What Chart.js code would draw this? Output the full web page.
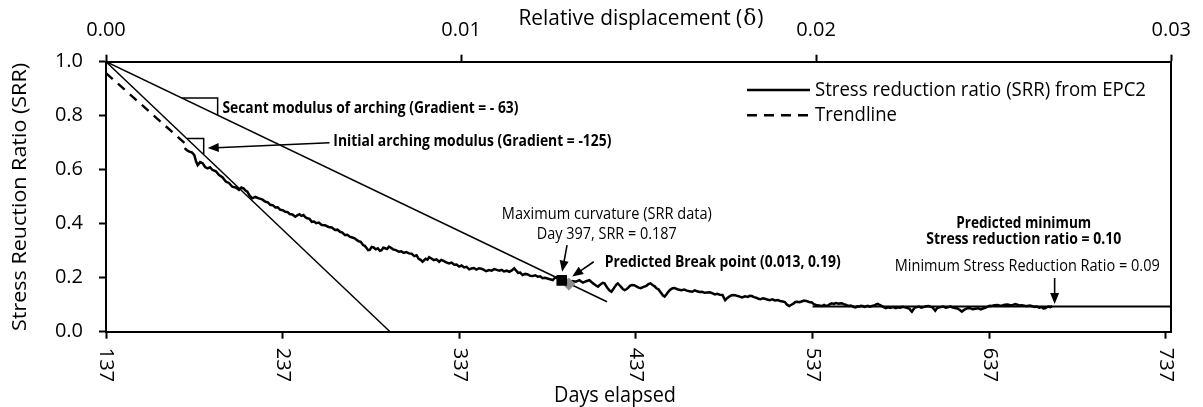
<!DOCTYPE html>
<html><head><meta charset="utf-8">
<script src="https://cdn.jsdelivr.net/npm/chart.js@4.4.1/dist/chart.umd.min.js"></script>
<style>html,body{margin:0;padding:0;background:#fff}#wrap{width:1203px;height:407px;position:relative}</style>
</head><body><div id="wrap"><canvas id="c"></canvas></div>
<script>
// ---------------- data ----------------
const srrDays = [
181.5,182.8,184.2,185.6,187.0,188.0,188.9,190.3,191.7,193.1,194.5,195.9,197.3,199.2,201.0,202.9,204.8,206.6,208.5,210.4,212.3,213.6,215.0,216.0,217.0,218.4,219.8,221.6,223.5,225.4,227.3,228.6,230.0,231.5,232.9,234.2,235.5,237.0,238.5,239.8,241.0,242.5,244.1,245.3,246.5,247.6,248.8,249.9,251.0,252.2,253.5,254.8,256.0,257.5,259.1,261.0,263.0,264.8,266.6,268.0,269.5,270.8,272.2,273.6,275.0,276.4,277.8,278.9,280.0,281.2,282.5,283.5,284.5,285.4,286.3,287.4,288.5,289.7,290.9,
292.0,293.0,294.0,295.0,296.1,297.2,298.3,299.5,301.1,302.8,304.1,305.5,307.0,308.5,310.0,311.5,312.8,314.0,315.1,316.2,317.1,318.0,319.0,319.9,321.2,322.6,324.1,325.6,326.8,328.1,329.6,331.2,332.6,334.1,335.5,336.9,338.3,339.7,341.1,342.6,343.9,345.2,346.7,348.2,349.5,350.7,352.2,353.8,355.3,356.8,358.2,359.6,361.0,362.3,363.8,365.3,366.7,368.1,369.2,370.3,371.5,372.8,374.3,375.8,377.1,378.5,380.0,381.4,382.8,384.1,385.5,386.9,388.4,389.9,390.9,391.8,393.1,394.4,396.0,397.5,
399.2,401.0,403.0,405.0,406.0,407.0,408.8,410.6,411.8,413.0,414.3,415.5,416.3,417.1,418.2,419.2,420.2,421.1,422.1,423.1,424.0,424.9,425.8,426.7,427.7,428.6,429.6,430.6,431.6,432.5,433.6,434.7,436.0,437.2,438.5,439.7,441.3,442.9,444.0,445.2,446.4,447.6,448.6,449.7,450.6,451.4,452.3,453.2,454.3,455.3,456.5,457.8,459.0,460.1,461.5,462.8,464.3,465.8,467.3,468.9,470.2,471.6,473.0,474.4,475.9,477.4,478.9,480.4,481.7,483.0,484.5,486.0,486.8,487.5,488.6,489.8,490.9,492.0,493.3,494.6,495.8,497.1,498.7,500.3,501.4,502.6,503.8,505.1,506.3,507.6,508.8,510.0,511.3,512.7,514.2,515.7,517.2,518.7,520.0,521.3,522.5,523.8,525.0,526.1,527.2,528.3,529.5,530.8,532.1,533.4,535.0,536.6,537.7,538.9,
540.5,542.2,543.5,544.5,545.5,546.6,547.8,549.0,550.1,551.8,553.6,554.6,555.7,556.6,557.6,558.6,559.7,560.5,561.3,562.3,563.3,564.3,565.3,566.3,567.3,568.3,569.4,570.6,571.9,572.9,573.9,575.0,576.0,577.2,578.5,579.7,581.0,582.5,584.1,585.3,586.6,588.0,589.6,590.6,591.7,592.4,593.2,594.0,594.7,596.0,597.2,598.5,599.8,601.3,602.8,603.8,604.8,605.6,606.4,607.2,607.9,609.4,610.9,612.5,614.0,615.0,616.0,617.5,619.0,620.3,621.5,622.6,623.6,624.9,626.1,627.6,629.1,630.7,632.2,633.5,634.7,635.5,636.2,637.2,638.2,640.0,641.8,643.0,644.3,645.8,647.3,648.9,650.4,651.7,652.9,654.2,655.4,657.0,658.5,660.0,661.5,662.8,664.0,665.3,666.6,667.6,668.6,669.6,670.6,671.6,672.6];
const srrValues = [
0.680,0.672,0.667,0.664,0.654,0.630,0.617,0.628,0.624,0.610,0.605,0.609,0.599,0.594,0.580,0.572,0.556,0.551,0.537,0.534,0.525,0.534,0.530,0.523,0.519,0.503,0.494,0.499,0.494,0.490,0.481,0.479,0.470,0.468,0.460,0.461,0.452,0.450,0.444,0.443,0.436,0.434,0.426,0.431,0.435,0.429,0.432,0.424,0.420,0.418,0.407,0.408,0.402,0.404,0.395,0.394,0.388,0.386,0.377,0.378,0.370,0.367,0.358,0.359,0.352,0.349,0.346,0.340,0.335,0.333,0.321,0.318,0.310,0.302,0.303,0.314,0.312,0.305,0.309,
0.300,0.302,0.311,0.309,0.306,0.315,0.311,0.305,0.302,0.296,0.298,0.292,0.295,0.290,0.289,0.280,0.283,0.270,0.266,0.259,0.265,0.270,0.267,0.276,0.271,0.265,0.268,0.259,0.266,0.262,0.257,0.253,0.256,0.248,0.249,0.241,0.245,0.238,0.240,0.231,0.234,0.236,0.230,0.235,0.233,0.230,0.224,0.228,0.226,0.232,0.229,0.226,0.229,0.223,0.226,0.222,0.227,0.235,0.226,0.218,0.219,0.210,0.214,0.212,0.207,0.206,0.209,0.204,0.205,0.198,0.200,0.197,0.194,0.191,0.198,0.201,0.196,0.194,0.190,0.191,
0.184,0.188,0.185,0.191,0.186,0.182,0.187,0.191,0.184,0.178,0.171,0.167,0.172,0.176,0.181,0.179,0.168,0.160,0.152,0.148,0.156,0.165,0.174,0.179,0.172,0.166,0.158,0.154,0.157,0.162,0.170,0.173,0.172,0.168,0.163,0.161,0.166,0.170,0.176,0.179,0.173,0.168,0.161,0.157,0.149,0.142,0.134,0.130,0.139,0.148,0.156,0.161,0.162,0.158,0.155,0.154,0.156,0.152,0.150,0.148,0.153,0.150,0.147,0.148,0.144,0.145,0.146,0.142,0.138,0.140,0.137,0.136,0.125,0.117,0.124,0.130,0.134,0.136,0.135,0.132,0.130,0.127,0.131,0.129,0.133,0.132,0.128,0.126,0.122,0.120,0.124,0.122,0.119,0.117,0.120,0.116,0.117,0.114,0.112,0.110,0.100,0.095,0.100,0.104,0.110,0.111,0.109,0.112,0.115,0.114,0.110,0.108,0.102,0.099,
0.097,0.095,0.099,0.096,0.097,0.101,0.105,0.103,0.106,0.104,0.105,0.102,0.100,0.097,0.095,0.097,0.094,0.091,0.090,0.094,0.093,0.096,0.095,0.092,0.094,0.096,0.093,0.095,0.097,0.101,0.103,0.099,0.096,0.091,0.087,0.090,0.088,0.091,0.087,0.090,0.089,0.092,0.090,0.088,0.086,0.080,0.074,0.082,0.088,0.091,0.093,0.089,0.091,0.094,0.095,0.092,0.090,0.084,0.078,0.085,0.089,0.091,0.093,0.089,0.091,0.094,0.090,0.088,0.086,0.080,0.074,0.080,0.084,0.088,0.087,0.083,0.085,0.087,0.083,0.086,0.088,0.091,0.093,0.096,0.095,0.098,0.099,0.096,0.097,0.100,0.101,0.098,0.099,0.102,0.100,0.097,0.098,0.096,0.095,0.097,0.094,0.092,0.093,0.089,0.091,0.086,0.087,0.091,0.093,0.091,0.095];
const trendDays = [137, 183];
const trendValues = [0.958, 0.690];
const secantDays = [137, 420.6];
const secantValues = [1.0, 0.111];
const initialDays = [137, 297.8];
const initialValues = [1.0, 0.0];
const minLineDays = [537, 740];
const minLineValues = [0.093, 0.093];
const secantTriDays = [179.9, 200.2, 200.2];
const secantTriValues = [0.866, 0.866, 0.803];
const initialTriDays = [182.7, 192.3, 192.3];
const initialTriValues = [0.716, 0.716, 0.658];
const maxCurvDays = [395];
const maxCurvValues = [0.19];
const breakDays = [399];
const breakValues = [0.177];
const dayTicks = [137, 237, 337, 437, 537, 637, 737];
const deltaTicks = [0, 0.01, 0.02, 0.03];
const srrTicks = [0, 0.2, 0.4, 0.6, 0.8, 1.0];

// ---------------- helpers ----------------
const pts = (xs, ys) => xs.map((x, i) => ({x, y: ys[i]}));
const FONT = '"Open Sans", "DejaVu Sans", sans-serif';

const notes = [
  {t:'Secant modulus of arching (Gradient = - 63)', d:202.9, v:0.828, size:16.5, bold:true, w:296, align:'left'},
  {t:'Initial arching modulus (Gradient = -125)', d:265.7, v:0.704, size:16.5, bold:true, w:278, align:'left'},
  {t:'Maximum curvature (SRR data)', d:420.5, v:0.432, size:15.5, bold:false, w:210, align:'center'},
  {t:'Day 397, SRR = 0.187', d:420.5, v:0.358, size:15.5, bold:false, w:140, align:'center'},
  {t:'Predicted Break point (0.013, 0.19)', d:419.3, v:0.258, size:16.5, bold:true, w:236, align:'left'},
  {t:'Predicted minimum', d:656.5, v:0.403, size:16.5, bold:true, w:135, align:'center'},
  {t:'Stress reduction ratio = 0.10', d:656.5, v:0.343, size:16.5, bold:true, w:195, align:'center'},
  {t:'Minimum Stress Reduction Ratio = 0.09', d:658.5, v:0.240, size:15.5, bold:false, w:265, align:'center'}
];
const arrows = [
  {d1:263.5, v1:0.700, d2:194.6, v2:0.680},
  {d1:398.0, v1:0.321, d2:395.2, v2:0.222},
  {d1:413.1, v1:0.259, d2:400.9, v2:0.204},
  {d1:674.0, v1:0.199, d2:674.0, v2:0.103}
];
const legendItems = [
  {t:'Stress reduction ratio (SRR) from EPC2', dash:[], v:0.895, w:331},
  {t:'Trendline', dash:[10,7], v:0.802, w:82}
];

function fitText(ctx, str, x, y, size, bold, width, align, rot) {
  ctx.save();
  ctx.font = (bold ? 'bold ' : '') + size + 'px ' + FONT;
  const m = ctx.measureText(str).width;
  const sx = width ? width / m : 1;
  ctx.translate(x, y);
  if (rot) ctx.rotate(rot);
  ctx.scale(sx, 1);
  ctx.textAlign = align;
  ctx.textBaseline = 'middle';
  ctx.fillStyle = '#000';
  ctx.fillText(str, 0, 0);
  ctx.restore();
}
function arrow(ctx, x1, y1, x2, y2) {
  const a = Math.atan2(y2 - y1, x2 - x1), L = 11, W = 4.5;
  ctx.save();
  ctx.strokeStyle = '#000'; ctx.fillStyle = '#000'; ctx.lineWidth = 1.6;
  ctx.beginPath(); ctx.moveTo(x1, y1);
  ctx.lineTo(x2 - L * 0.8 * Math.cos(a), y2 - L * 0.8 * Math.sin(a)); ctx.stroke();
  ctx.beginPath();
  ctx.moveTo(x2, y2);
  ctx.lineTo(x2 - L * Math.cos(a) + W * Math.sin(a), y2 - L * Math.sin(a) - W * Math.cos(a));
  ctx.lineTo(x2 - L * Math.cos(a) - W * Math.sin(a), y2 - L * Math.sin(a) + W * Math.cos(a));
  ctx.closePath(); ctx.fill();
  ctx.restore();
}

const decor = {
  id: 'decor',
  afterDraw(chart) {
    const ctx = chart.ctx, xs = chart.scales.x, ys = chart.scales.y, ca = chart.chartArea;
    // bottom tick labels, rotated clockwise
    ctx.save();
    ctx.font = '20px ' + FONT; ctx.fillStyle = '#000';
    dayTicks.forEach(d => {
      const px = xs.getPixelForValue(d);
      ctx.save(); ctx.translate(px, ca.bottom + 16); ctx.rotate(Math.PI / 2);
      ctx.textAlign = 'left'; ctx.textBaseline = 'middle';
      ctx.fillText(String(d), 0, 0); ctx.restore();
    });
    ctx.restore();
    // axis titles
    fitText(ctx, 'Days elapsed', 615, 396, 21, false, 122, 'center');
    fitText(ctx, 'Stress Reuction Ratio (SRR)', 20, 197, 20.5, false, 268, 'center', -Math.PI / 2);
    // top title with serif delta
    ctx.save();
    ctx.fillStyle = '#000'; ctx.textBaseline = 'middle'; ctx.textAlign = 'left';
    const p1 = 'Relative displacement (', p2 = '\u03B4', p3 = ')';
    const F1 = '21px ' + FONT, F2 = '22px "DejaVu Serif", "Liberation Serif", serif';
    ctx.font = F1; const w1 = ctx.measureText(p1).width, w3 = ctx.measureText(p3).width;
    ctx.font = F2; const w2 = ctx.measureText(p2).width;
    const sx = 243 / (w1 + w2 + w3);
    ctx.translate(640 - 243 / 2, 19); ctx.scale(sx, 1);
    ctx.font = F1; ctx.fillText(p1, 0, 0);
    ctx.font = F2; ctx.fillText(p2, w1 + 1, 0);
    ctx.font = F1; ctx.fillText(p3, w1 + w2 + 2, 0);
    ctx.restore();
    // notes & arrows
    notes.forEach(n => fitText(ctx, n.t, xs.getPixelForValue(n.d), ys.getPixelForValue(n.v), n.size, n.bold, n.w, n.align));
    arrows.forEach(a => arrow(ctx, xs.getPixelForValue(a.d1), ys.getPixelForValue(a.v1), xs.getPixelForValue(a.d2), ys.getPixelForValue(a.v2)));
    // legend
    legendItems.forEach(l => {
      const y = ys.getPixelForValue(l.v);
      ctx.save();
      ctx.strokeStyle = '#000'; ctx.lineWidth = 2.5; ctx.setLineDash(l.dash);
      ctx.beginPath(); ctx.moveTo(747, y); ctx.lineTo(810, y); ctx.stroke();
      ctx.restore();
      fitText(ctx, l.t, 815, y, 20, false, l.w, 'left');
    });
  }
};

const axisCommon = {
  border: {display: true, color: '#000', width: 2},
  grid: {display: true, drawOnChartArea: false, drawTicks: true, tickLength: 7, tickColor: '#000', tickWidth: 2}
};

new Chart(document.getElementById('c'), {
  type: 'scatter',
  data: {
    datasets: [
      {label: 'max', data: pts(maxCurvDays, maxCurvValues), pointStyle: 'rect', pointRadius: 7.5, backgroundColor: '#000', borderColor: '#000', borderWidth: 0, order: 0},
      {label: 'break', data: pts(breakDays, breakValues), pointStyle: 'rectRot', pointRadius: 6.5, backgroundColor: '#8c8c8c', borderColor: '#8c8c8c', borderWidth: 0, order: 0},
      {label: 'SRR', data: pts(srrDays, srrValues), showLine: true, borderColor: '#000', borderWidth: 2.5, pointRadius: 0, order: 1},
      {label: 'Trendline', data: pts(trendDays, trendValues), showLine: true, borderColor: '#000', borderWidth: 2.4, borderDash: [9, 7], pointRadius: 0, order: 2},
      {label: 'secant', data: pts(secantDays, secantValues), showLine: true, borderColor: '#000', borderWidth: 1.5, pointRadius: 0, order: 2},
      {label: 'initial', data: pts(initialDays, initialValues), showLine: true, borderColor: '#000', borderWidth: 1.5, pointRadius: 0, order: 2},
      {label: 'minline', data: pts(minLineDays, minLineValues), showLine: true, borderColor: '#000', borderWidth: 2, pointRadius: 0, order: 2},
      {label: 'secTri', data: pts(secantTriDays, secantTriValues), showLine: true, borderColor: '#000', borderWidth: 1.5, pointRadius: 0, order: 2},
      {label: 'iniTri', data: pts(initialTriDays, initialTriValues), showLine: true, borderColor: '#000', borderWidth: 1.5, pointRadius: 0, order: 2}
    ]
  },
  options: {
    responsive: true, maintainAspectRatio: false, animation: false,
    layout: {padding: 0},
    plugins: {legend: {display: false}, tooltip: {enabled: false}},
    scales: {
      x: Object.assign({}, axisCommon, {
        type: 'linear', position: 'bottom', min: 137, max: 740,
        ticks: {display: false},
        afterBuildTicks: s => { s.ticks = dayTicks.map(v => ({value: v})); },
        afterFit: s => { s.height = 75.3; }
      }),
      x2: Object.assign({}, axisCommon, {
        type: 'linear', position: 'top', min: 0, max: 0.03,
        ticks: {display: true, color: '#000', font: {family: FONT, size: 20}, padding: 12, maxRotation: 0, callback: v => v.toFixed(2)},
        afterBuildTicks: s => { s.ticks = deltaTicks.map(v => ({value: v})); },
        afterFit: s => { s.height = 61.7; }
      }),
      y: Object.assign({}, axisCommon, {
        type: 'linear', position: 'left', min: 0, max: 1,
        ticks: {display: true, color: '#000', font: {family: FONT, size: 20}, padding: 16, callback: v => v.toFixed(1)},
        afterBuildTicks: s => { s.ticks = srrTicks.map(v => ({value: v})); },
        afterFit: s => { s.width = 106; }
      }),
      y2: {
        type: 'linear', position: 'right', min: 0, max: 1,
        border: {display: true, color: '#000', width: 2},
        grid: {display: false, drawTicks: false},
        ticks: {display: false},
        afterFit: s => { s.width = 29; }
      }
    }
  },
  plugins: [decor]
});
</script></body></html>
